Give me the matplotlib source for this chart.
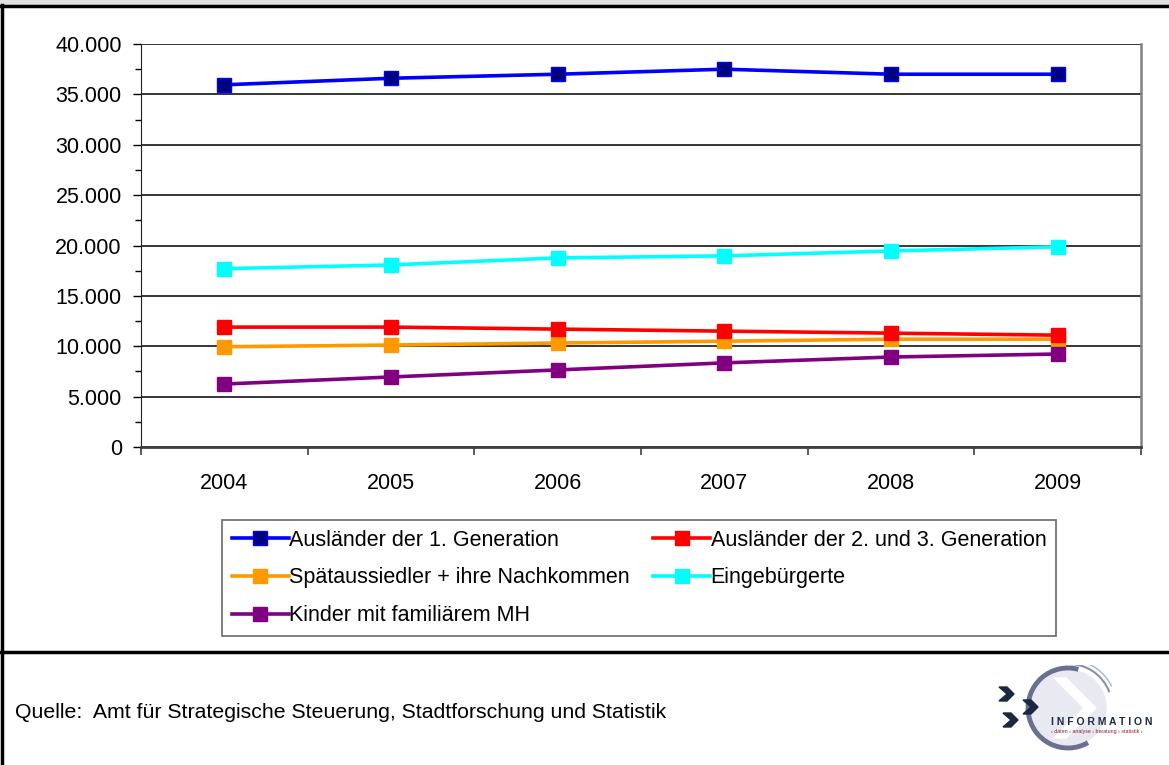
import matplotlib.pyplot as plt
from matplotlib.lines import Line2D
from matplotlib.patches import Arc, Polygon, Circle
from matplotlib.ticker import FuncFormatter, MultipleLocator

plt.rcParams['font.family'] = ['Liberation Sans', 'DejaVu Sans']

years = ['2004', '2005', '2006', '2007', '2008', '2009']
auslaender_1 = [35950, 36600, 37000, 37500, 37000, 37000]
auslaender_23 = [11900, 11900, 11700, 11500, 11300, 11100]
spaetaussiedler = [9950, 10120, 10320, 10500, 10700, 10700]
eingebuergerte = [17700, 18070, 18770, 18970, 19460, 19870]
kinder_mh = [6250, 6950, 7650, 8350, 8930, 9230]

series = [
    ('Ausländer der 1. Generation', auslaender_1, '#0000ff', '#000080'),
    ('Spätaussiedler + ihre Nachkommen', spaetaussiedler, '#ff9900', '#ff9900'),
    ('Kinder mit familiärem MH', kinder_mh, '#800080', '#800080'),
    ('Ausländer der 2. und 3. Generation', auslaender_23, '#ff0000', '#ff0000'),
    ('Eingebürgerte', eingebuergerte, '#00ffff', '#00ffff'),
]
source = 'Quelle:  Amt für Strategische Steuerung, Stadtforschung und Statistik'

fig = plt.figure(figsize=(11.69, 7.65), dpi=100)
W, H = 1169, 765

# page frame: grey strip on top, heavy rules, left border
fig.patches.append(plt.Rectangle((0, 1 - 4 / H), 1, 4 / H, transform=fig.transFigure,
                                 color='#e0e0e0', zorder=0))
fig.add_artist(Line2D([0, 1], [1 - 5.5 / H, 1 - 5.5 / H], color='black', lw=2.5))
fig.add_artist(Line2D([2 / W, 2 / W], [0, 1 - 5 / H], color='black', lw=2.5))
fig.add_artist(Line2D([0, 1], [1 - 652 / H, 1 - 652 / H], color='black', lw=2.5))

ax = fig.add_axes([141 / W, 1 - 447 / H, 1000 / W, 403 / H])
x = list(range(len(years)))
handles = []
for label, vals, col, face in series:
    h, = ax.plot(x, vals, color=col, lw=2.6, marker='s', ms=10,
                 mfc=face, mec=col, mew=1, label=label, zorder=3)
    handles.append(h)

ax.set_xlim(-0.5, len(years) - 0.5)
ax.set_ylim(0, 40000)
ax.set_xticks([i - 0.5 for i in range(len(years) + 1)])
ax.set_xticklabels([])
ax.set_xticks(x, minor=True)
ax.set_xticklabels(years, minor=True)
ax.tick_params(axis='x', which='major', length=6, width=1.2, color='#404040')
ax.tick_params(axis='x', which='minor', length=0, pad=19, labelsize=15.5)
ax.yaxis.set_major_locator(MultipleLocator(5000))
ax.yaxis.set_minor_locator(MultipleLocator(2500))
ax.yaxis.set_major_formatter(FuncFormatter(lambda v, p: f'{int(v):,}'.replace(',', '.')))
ax.tick_params(axis='y', which='major', length=5.8, width=1, labelsize=15.5, pad=8)
ax.tick_params(axis='y', which='minor', length=4.3, width=1)
ax.grid(axis='y', which='major', color='black', lw=1.1, zorder=1)
ax.set_axisbelow(True)
ax.spines['top'].set_visible(False)
ax.spines['left'].set_color('#202020')
ax.spines['bottom'].set_color('#404040')
ax.spines['bottom'].set_linewidth(2)
ax.spines['right'].set_color('#808080')
ax.spines['right'].set_linewidth(1.8)

leg = fig.legend(handles=handles, loc='upper left', ncol=2, mode='expand',
                 bbox_to_anchor=(222 / W, 0, 834 / W, 1 - 520 / H),
                 frameon=True, fancybox=False, fontsize=15.5, handlelength=2.65,
                 handletextpad=0.02, labelspacing=0.78, borderpad=0.45,
                 borderaxespad=0)
leg.get_frame().set_edgecolor('#444444')
leg.get_frame().set_linewidth(1.2)

fig.text(15 / W, 1 - 712 / H, source, fontsize=15.3, va='center', ha='left')

# INFORMATION logo, bottom right (axes units are pixels)
lg = fig.add_axes([985 / W, 0, 184 / W, 100 / H])
lg.set_xlim(0, 184)
lg.set_ylim(0, 100)
lg.axis('off')
cx0, cy0 = 83, 57
lg.add_patch(Circle((cx0, cy0), 38, color='#e8e9f1', zorder=0))
lg.add_patch(Polygon([[cx0 - 14, cy0 + 30], [cx0 + 16, cy0], [cx0 - 14, cy0 - 30],
                      [cx0 - 2, cy0 - 30], [cx0 + 28, cy0], [cx0 - 2, cy0 + 30]],
                     closed=True, color='white', zorder=1))
lg.add_patch(Arc((cx0, cy0), 80, 80, theta1=75, theta2=300, color='#6a7090', lw=3.5, zorder=2))
lg.add_patch(Arc((cx0 + 1, cy0 + 1), 86, 86, theta1=20, theta2=95, color='#8a90aa', lw=1.5, zorder=2))
lg.add_patch(Arc((cx0 + 2, cy0 + 2), 92, 92, theta1=25, theta2=85, color='#b0b4c8', lw=1, zorder=2))
for cx, cy in [(20, 71), (44, 58), (24, 45)]:
    lg.add_patch(Polygon([[cx - 6, cy + 7], [cx + 2, cy], [cx - 6, cy - 7],
                          [cx + 2, cy - 7], [cx + 9, cy], [cx + 2, cy + 7]],
                         closed=True, color='#1c2840', zorder=3))
lg.text(66, 43, 'I N F O R M A T I O N', fontsize=7.5, color='#1c2840',
        fontweight='bold', va='center', ha='left', zorder=4)
lg.text(66, 34, '‹ daten › analyse › beratung › statistik ›', fontsize=3.8,
        color='#8a2030', va='center', ha='left', zorder=4)

fig.savefig('out.png', dpi=100)
